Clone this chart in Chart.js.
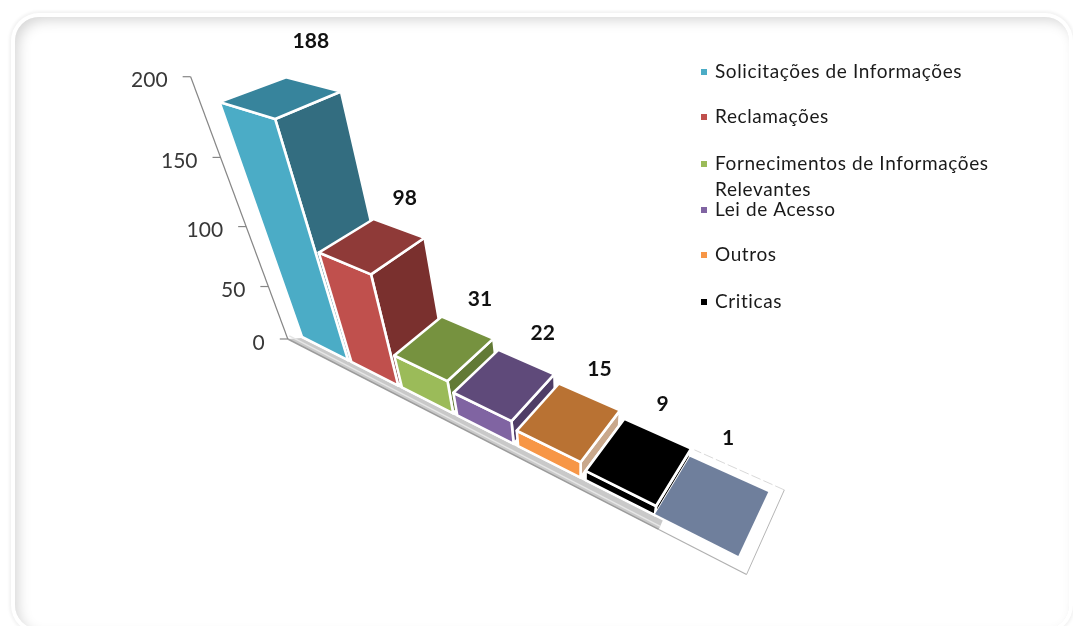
<!DOCTYPE html>
<html><head><meta charset="utf-8">
<style>
html,body{margin:0;padding:0;background:#fff;width:1073px;height:626px;overflow:hidden}
#frame{position:absolute;left:15px;top:17px;width:1054px;height:612px;border-radius:24px;box-shadow:inset 5px 5px 13px -2px rgba(0,0,0,.17),0 0 0 4px #fff,0 0 3px 6px rgba(0,0,0,.05)}
#wrap{position:absolute;left:0;top:0;width:1073px;height:626px}
</style>
<script src="https://cdn.jsdelivr.net/npm/chart.js@4"></script>
</head><body>
<div id="frame"></div>
<div id="wrap"><canvas id="c" width="1073" height="626"></canvas></div>
<script>
const categories = ["Solicitações de Informações","Reclamações","Fornecimentos de Informações Relevantes","Lei de Acesso","Outros","Criticas",""];
const values = [188,98,31,22,15,9,1];
const frontColors = ["#4BACC6","#C0504D","#9BBB59","#8064A2","#F79646","#000000","#6F7F9C"];
const topColors = ["#37849C","#8F3A38","#76923F","#5F4A7A","#B97233","#000000","#6F7F9C"];
const sideColors = ["#336D80","#7A302E","#627A35","#4F3D66","#C9A88C","#000000","#6F7F9C"];
const yTicks = [0,50,100,150,200];
const legendLines = [["Solicitações de Informações"],["Reclamações"],["Fornecimentos de Informações","Relevantes"],["Lei de Acesso"],["Outros"],["Criticas"]];
const legendY = [72,117,164,210,255,302];
const lineGap = 26;
const labelNudge = [[-2,-43],[8,-29],[15,-27],[19,-28],[13,-26],[8,-28],[0,-36]];

// Perspective camera: screen = (O + u*U + d*D + t*V) / (1 + u*wu + d*wd + t*wv)
const cam = {ox:302,oy:337,ux:31.47,uy:8.17,wu:-0.04176,dx:69.3,dy:-14.3,wd:0.0627,vx:-145.8,vy:-283.4,wv:-0.2517};
function proj(u,d,t){
  const w=1+u*cam.wu+d*cam.wd+t*cam.wv;
  return [(cam.ox+u*cam.ux+d*cam.dx+t*cam.vx)/w,(cam.oy+u*cam.uy+d*cam.dy+t*cam.vy)/w];
}
const BAR_T=0.97, AXIS_T=0.99, GAP=0.07;
const FONT='Lato, "Open Sans", sans-serif';
function poly(ctx,pts,fill,stroke,lw){
  ctx.beginPath();pts.forEach((p,i)=>i?ctx.lineTo(p[0],p[1]):ctx.moveTo(p[0],p[1]));ctx.closePath();
  if(fill){ctx.fillStyle=fill;ctx.fill();}
  if(stroke){ctx.strokeStyle=stroke;ctx.lineWidth=lw||2;ctx.lineJoin='round';ctx.stroke();}
}
const bars3d={id:'bars3d',
 beforeDatasetsDraw(chart){
  const ctx=chart.ctx,a=chart.chartArea,y=chart.scales.y;
  const n=categories.length,els=chart.getDatasetMeta(0).data;
  const U=x=>(x-a.left)/a.width*n, T=p=>(a.bottom-p)/a.height;
  ctx.save();
  // floor plate
  const fm=0.15;
  const fl=proj(-fm,-fm,0),fr=proj(n+fm,-fm,0),br=proj(n+fm,1+fm,0),bl=proj(-fm,1+fm,0);
  poly(ctx,[fl,fr,br,bl],'#ffffff');
  ctx.strokeStyle='#b5b5b5';ctx.lineWidth=1;
  ctx.beginPath();ctx.moveTo(fr[0],fr[1]);ctx.lineTo(br[0],br[1]);ctx.stroke();
  ctx.strokeStyle='#d8d8d8';ctx.setLineDash([10,3]);
  const dashEnd=proj(n-1,1+fm,0);
  ctx.beginPath();ctx.moveTo(br[0],br[1]);ctx.lineTo(dashEnd[0],dashEnd[1]);ctx.stroke();ctx.setLineDash([]);
  // floor front thick edge (grey bevel along the base of the bars)
  const st=proj(-fm,-fm,0),en=proj(n-1+0.12,-fm,0),off=[4,-9];
  poly(ctx,[st,en,[en[0]+off[0],en[1]+off[1]],[st[0]+off[0]+10,st[1]+off[1]+8]],'#c9c9c9');
  ctx.strokeStyle='#e6e6e6';ctx.lineWidth=1.4;ctx.beginPath();ctx.moveTo(st[0]+1.5,st[1]-3);ctx.lineTo(en[0]+1.5,en[1]-3);ctx.stroke();
  ctx.strokeStyle='#9c9c9c';ctx.lineWidth=1.5;ctx.beginPath();ctx.moveTo(st[0],st[1]);ctx.lineTo(en[0],en[1]);ctx.stroke();
  ctx.strokeStyle='#b0b0b0';ctx.lineWidth=1.2;ctx.beginPath();ctx.moveTo(en[0],en[1]);ctx.lineTo(fr[0],fr[1]);ctx.stroke();
  // value axis
  const axisAt=t=>proj(-fm,-fm,t*AXIS_T);
  const a0=axisAt(0),a1=axisAt(T(y.getPixelForValue(y.max)));
  ctx.strokeStyle='#868686';ctx.lineWidth=1.2;ctx.beginPath();ctx.moveTo(a0[0],a0[1]);ctx.lineTo(a1[0],a1[1]);ctx.stroke();
  ctx.font='21px '+FONT;ctx.textAlign='right';ctx.textBaseline='middle';
  y.ticks.forEach(tk=>{
    const p=axisAt(T(y.getPixelForValue(tk.value)));
    ctx.strokeStyle='#868686';ctx.beginPath();ctx.moveTo(p[0],p[1]);ctx.lineTo(p[0]-8,p[1]);ctx.stroke();
    ctx.fillStyle='#383838';ctx.fillText(tk.label,p[0]-23,p[1]+4);
  });
  // bars, far-left to near-right
  els.forEach((el,i)=>{
    const w=el.width,u0=U(el.x-w/2)+((i&&i<n-1)?GAP:0),u1=U(el.x+w/2),t=T(el.y)*BAR_T;
    const A=proj(u0,0,0),B=proj(u1,0,0),C=proj(u1,0,t),E=proj(u0,0,t);
    const F=proj(u0,1,t),G=proj(u1,1,t),H=proj(u1,1,0);
    if(i===n-1){poly(ctx,[E,C,G,F],frontColors[i]);return;}
    poly(ctx,[B,H,G,C],sideColors[i],'#fff',2.6);
    poly(ctx,[A,B,C,E],frontColors[i],'#fff',2.6);
    poly(ctx,[E,C,G,F],topColors[i],'#fff',2.6);
  });
  // value labels
  ctx.font='bold 21px '+FONT;ctx.fillStyle='#111';ctx.textAlign='center';
  els.forEach((el,i)=>{
    const u=U(el.x),t=T(el.y)*BAR_T,p=proj(u,1,t);
    ctx.fillText(String(values[i]),p[0]+labelNudge[i][0],p[1]+labelNudge[i][1]);
  });
  // legend
  ctx.font='19px '+FONT;ctx.textAlign='left';
  legendLines.forEach((ls,i)=>{
    ctx.fillStyle=frontColors[i];ctx.fillRect(701,legendY[i]-3,6,6);
    ctx.fillStyle='#1a1a1a';
    ls.forEach((s,k)=>{ctx.letterSpacing='0.6px';ctx.fillText(s,715,legendY[i]+k*lineGap);});
  });
  ctx.letterSpacing='0px';
  ctx.restore();
  return false;
 }};
new Chart(document.getElementById('c'),{
 type:'bar',
 data:{labels:categories,datasets:[{data:values,backgroundColor:frontColors,barPercentage:1,categoryPercentage:1}]},
 plugins:[bars3d],
 options:{responsive:false,animation:false,
  layout:{padding:{left:60,right:60,top:60,bottom:60}},
  plugins:{legend:{display:false},tooltip:{enabled:false}},
  scales:{x:{display:false},y:{display:false,min:0,max:200,afterBuildTicks(s){s.ticks=yTicks.map(v=>({value:v,label:String(v)}));}}}
 }});
</script>
</body></html>
